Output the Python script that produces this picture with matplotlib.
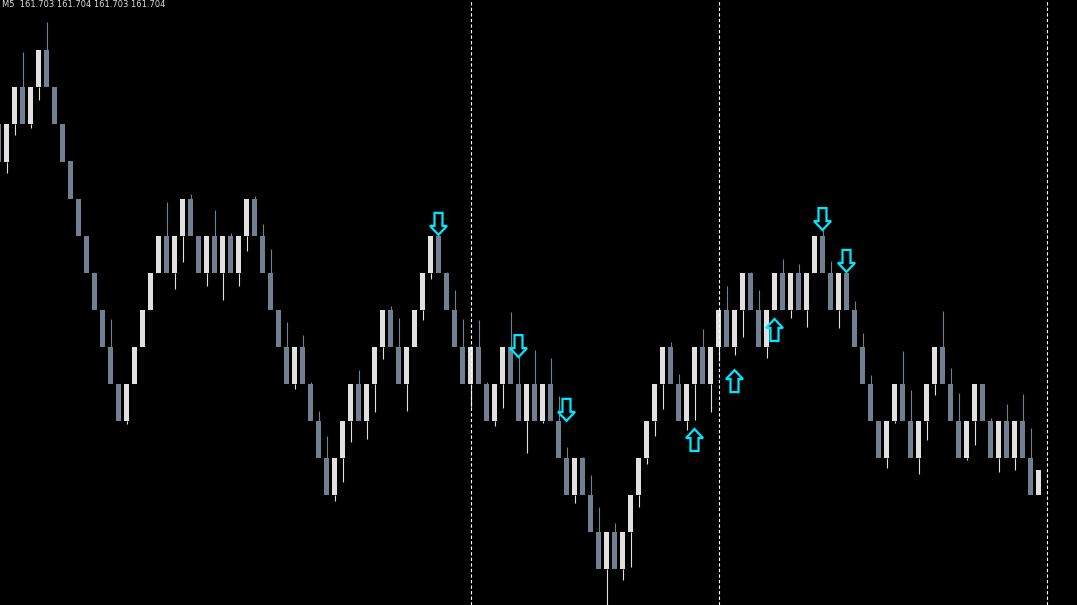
import numpy as np
import matplotlib.pyplot as plt
from matplotlib.patches import Polygon

# bars are indexed from -1 (the partly visible one at the left edge)
first_bar = -1

# bottom of each brick, in box units (one box = one price step)
bottoms = [11, 11, 12, 12, 12, 13, 13, 12, 11, 10, 9, 8, 7, 6, 5, 4,
           4, 5, 6, 7, 8, 8, 8, 9, 9, 8, 8, 8, 8, 8, 8, 9,
           9, 8, 7, 6, 5, 5, 5, 4, 3, 2, 2, 3, 4, 4, 4, 5,
           6, 6, 5, 5, 6, 7, 8, 8, 7, 6, 5, 5, 5, 4, 4, 5,
           5, 4, 4, 4, 4, 4, 3, 2, 2, 2, 1, 0, 0, 0, 0, 1,
           2, 3, 4, 5, 5, 4, 4, 5, 5, 5, 6, 6, 6, 7, 7, 6,
           6, 7, 7, 7, 7, 7, 8, 8, 7, 7, 7, 6, 5, 4, 3, 3,
           4, 4, 3, 3, 4, 5, 5, 4, 3, 3, 4, 4, 3, 3, 3, 3,
           3, 2, 2]

# 1 = rising brick (light), 0 = falling brick (slate)
ups = [0, 1, 1, 0, 1, 1, 0, 0, 0, 0, 0, 0, 0, 0, 0, 0,
       1, 1, 1, 1, 1, 0, 1, 1, 0, 0, 1, 0, 1, 0, 1, 1,
       0, 0, 0, 0, 0, 1, 0, 0, 0, 0, 1, 1, 1, 0, 1, 1,
       1, 0, 0, 1, 1, 1, 1, 0, 0, 0, 0, 1, 0, 0, 1, 1,
       0, 0, 1, 0, 1, 0, 0, 0, 1, 0, 0, 0, 1, 0, 1, 1,
       1, 1, 1, 1, 0, 0, 1, 1, 0, 1, 1, 0, 1, 1, 0, 0,
       1, 1, 0, 1, 0, 1, 1, 0, 0, 1, 0, 0, 0, 0, 0, 1,
       1, 0, 0, 1, 1, 1, 0, 0, 0, 1, 1, 0, 0, 1, 0, 1,
       0, 0, 1]

# wick tip: low for rising bricks, high for falling ones (None = no wick)
wicks = [None, 10.69, 11.72, 13.96, 11.90, 12.66, 14.77, None, None, None, None, None, None, None, 6.75, None,
         3.91, None, None, None, None, 9.91, 7.56, 8.29, 10.12, None, 7.64, 9.69, 7.26, 9.07, 7.64, 8.58,
         10.07, 9.31, 8.64, None, 6.67, 4.86, 6.32, 5.05, 4.27, 3.59, 1.84, 2.35, 3.43, 5.37, 3.51, 4.24,
         5.67, 7.10, 6.78, 4.27, None, 6.72, 7.83, None, 8.02, 7.53, 6.75, 4.37, 6.72, 5.05, 3.86, 4.35,
         6.94, 5.72, 3.13, 5.91, 3.94, 5.70, 4.67, 3.29, 1.78, 3.02, 2.54, 1.67, -0.97, 1.24, -0.30, 0.06,
         1.67, 2.84, 3.59, 4.32, 6.13, 5.26, 3.75, 4.02, 6.48, 4.24, 5.62, 7.64, 5.78, 6.26, 8.02, 7.53,
         5.70, None, 8.37, 6.78, 8.23, 6.53, None, 9.15, 8.31, 6.51, None, 7.23, 6.37, 5.24, None, 2.73,
         3.94, 5.89, 4.83, 2.57, 3.48, 4.70, 6.96, 5.43, 4.75, 2.94, 3.35, None, 4.08, 2.62, 4.45, 2.67,
         4.72, 3.81, None]

# the last brick is still forming
last_close = 2.67

# session separators (bar index)
separators = [58, 89, 130]

# signal arrows: bar index and tip price
down_bars = [54, 64, 70, 102, 105]
down_tips = [9.02, 5.72, 4.00, 9.15, 8.02]
up_bars = [86, 91, 96]
up_tips = [3.78, 5.37, 6.75]

header = "M5  161.703 161.704 161.703 161.704"

UP_COLOR = '#E0E0E0'
DOWN_COLOR = '#708090'
ARROW_COLOR = '#00E8FF'

W, H = 1077, 605
fig = plt.figure(figsize=(W / 100, H / 100), dpi=100)
fig.patch.set_facecolor('black')
ax = fig.add_axes([0, 0, 1, 1])
ax.set_facecolor('black')

# 8 px per bar, 37.05 px per box
xmin, xmax = -6.5 / 8, (W - 6.5) / 8
ymin, ymax = (569.05 - H) / 37.05, 569.05 / 37.05
ax.set_xlim(xmin, xmax)
ax.set_ylim(ymin, ymax)
ax.axis('off')
px_x = (xmax - xmin) / W
px_y = (ymax - ymin) / H

n = len(bottoms)
x = np.arange(first_bar, first_bar + n)
bottoms = np.array(bottoms, dtype=float)
ups = np.array(ups, dtype=bool)
wicks = np.array([np.nan if w is None else w for w in wicks], dtype=float)
heights = np.ones(n)
heights[-1] = last_close - bottoms[-1]
colors = np.where(ups, UP_COLOR, DOWN_COLOR)

# wicks first, bodies on top
for xi, b, h, up, w, c in zip(x, bottoms, heights, ups, wicks, colors):
    if np.isnan(w):
        continue
    if up:
        ax.vlines(xi, w, b, color=c, lw=0.8)
    else:
        ax.vlines(xi, b + h, w, color=c, lw=0.8)

ax.bar(x, heights, bottom=bottoms, width=5.4 * px_x, color=colors,
       linewidth=0)

for s in separators:
    ax.axvline(s, color='white', lw=0.8, dashes=(3, 2))


def arrow(xc, tip, down):
    # hollow block arrow, sizes in pixels
    shape = [(0, 0), (8.5, 9), (4, 9), (4, 22), (-4, 22), (-4, 9), (-8.5, 9)]
    sgn = 1 if down else -1
    pts = [(xc + dx * px_x, tip + sgn * dy * px_y) for dx, dy in shape]
    ax.add_patch(Polygon(pts, closed=True, facecolor='black',
                         edgecolor=ARROW_COLOR, lw=1.6, zorder=5))


for b, t in zip(down_bars, down_tips):
    arrow(b, t, True)
for b, t in zip(up_bars, up_tips):
    arrow(b, t, False)

fig.text(2 / W, 1, header, color='#DDDDDD', fontsize=6,
         ha='left', va='top')

fig.savefig('out.png', dpi=100, facecolor='black')
